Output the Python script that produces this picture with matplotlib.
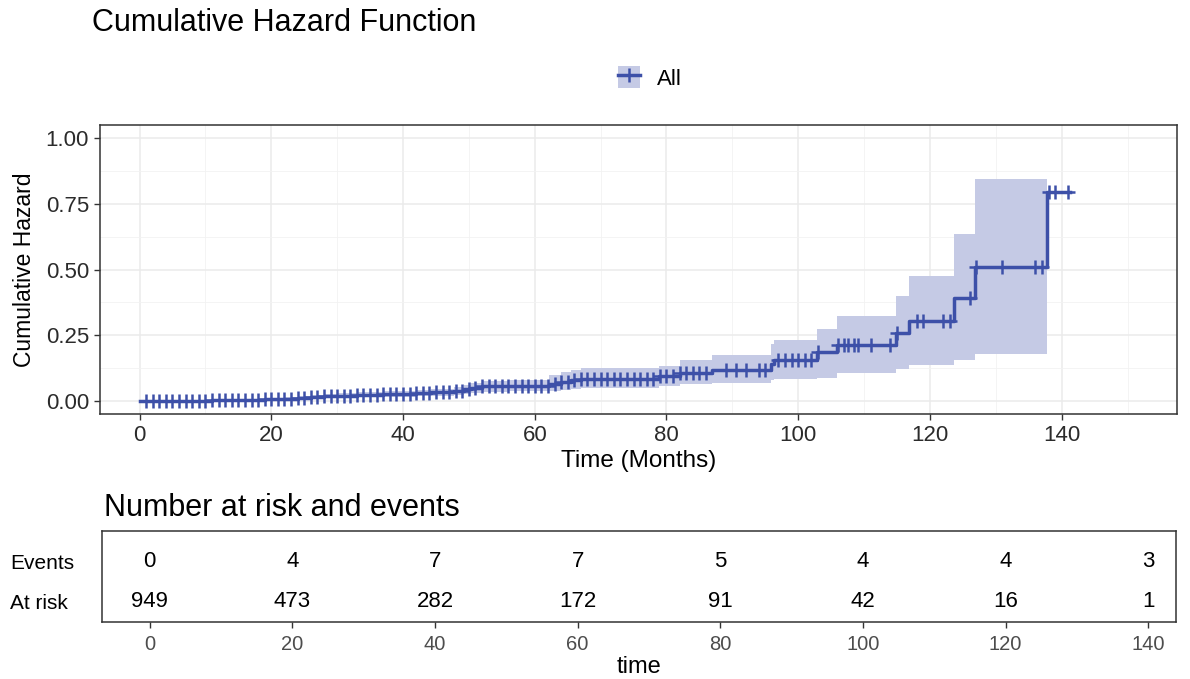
import matplotlib
matplotlib.use("Agg")
import matplotlib.pyplot as plt
import numpy as np
from matplotlib.patches import Patch
from matplotlib.lines import Line2D

plt.rcParams['font.family'] = ['Liberation Sans', 'DejaVu Sans']

# event times (months) and cumulative hazard after each event
event_t = [6, 11, 15, 19, 22, 24, 26, 28, 30, 33, 37, 42, 44.3, 47.8, 49.2, 50.3,
           52, 56, 62.2, 64, 65.5, 67, 78.9, 82, 86.9, 95.8, 96.3, 102.9, 105.9,
           114.8, 116.8, 123.7, 126.9, 137.7]
cumhaz = [0.0012, 0.0025, 0.0038, 0.0055, 0.008, 0.011, 0.014, 0.017, 0.020, 0.023,
          0.026, 0.029, 0.033, 0.038, 0.044, 0.050, 0.055, 0.058, 0.065, 0.071,
          0.078, 0.082, 0.093, 0.106, 0.119, 0.140, 0.155, 0.186, 0.212, 0.258,
          0.305, 0.393, 0.509, 0.795]
# confidence band, from t=0 up to the last event (band stops there)
ci_low = [0, 0, 0.0003, 0.001, 0.002, 0.003, 0.005, 0.007, 0.009, 0.011, 0.013,
          0.015, 0.017, 0.020, 0.023, 0.027, 0.031, 0.035, 0.037, 0.038, 0.042,
          0.047, 0.048, 0.055, 0.063, 0.067, 0.078, 0.082, 0.088, 0.106, 0.122,
          0.137, 0.156, 0.179]
ci_up = [0, 0.004, 0.006, 0.008, 0.010, 0.013, 0.017, 0.021, 0.025, 0.029, 0.033,
         0.037, 0.041, 0.046, 0.053, 0.061, 0.069, 0.075, 0.079, 0.100, 0.108,
         0.118, 0.125, 0.134, 0.154, 0.176, 0.215, 0.233, 0.274, 0.322, 0.398,
         0.474, 0.634, 0.843]
last_time = 141.3

censor_t = [1, 2, 3, 4, 5, 6, 7, 8, 9, 10, 11, 12, 13, 14, 15, 16, 17, 18, 19, 20,
            21, 22, 23, 24, 25, 26, 27, 28, 29, 30, 31, 32, 33, 34, 35, 36, 37, 38,
            39, 40, 41, 42, 43, 44, 45, 46, 47, 48, 49, 50, 51, 52, 53, 54, 55, 56,
            57, 58, 59, 60, 61, 62, 63, 64, 65, 66, 67, 68, 69, 70, 71, 72, 73, 74,
            75, 76, 77, 78, 79, 80, 81, 82, 83, 84, 85, 86, 89, 90.5, 92, 94, 95,
            97, 98, 99, 100, 101, 102, 103, 106, 107, 107.6, 108.4, 109, 111, 114,
            115, 118, 119, 122, 123, 126, 127, 131, 136, 137, 138, 139, 141]

# risk table
table_t = [0, 20, 40, 60, 80, 100, 120, 140]
n_events = [0, 4, 7, 7, 5, 4, 4, 3]
n_risk = [949, 473, 282, 172, 91, 42, 16, 1]

col = '#3D50A8'
band = '#C5CAE5'
W, H = 1190, 679

fig = plt.figure(figsize=(W / 100, H / 100), dpi=100)

# ---- cumulative hazard panel
ax = fig.add_axes([100 / W, 1 - 414 / H, (1177 - 100) / W, (414 - 125) / H])
step_x = [0] + event_t + [last_time]
step_y = [0] + cumhaz + [cumhaz[-1]]
band_x = [0] + event_t
band_lo = ci_low + [ci_low[-1]]
band_hi = ci_up + [ci_up[-1]]
ax.fill_between(band_x, band_lo, band_hi, step='post', color=band, lw=0, zorder=2)
ax.step(step_x, step_y, where='post', color=col, lw=2.5, zorder=3)
idx = np.searchsorted(step_x, censor_t, side='right') - 1
ax.plot(censor_t, np.array(step_y)[idx], ls='none', marker='+', ms=9.5,
        mew=1.8, color=col, zorder=4)

ax.set_xlim(-6, 157.5)
ax.set_ylim(-0.05, 1.05)
ax.set_xticks([0, 20, 40, 60, 80, 100, 120, 140])
ax.set_xticks(np.arange(10, 151, 20), minor=True)
ax.set_yticks([0, 0.25, 0.5, 0.75, 1.0])
ax.set_yticklabels(['0.00', '0.25', '0.50', '0.75', '1.00'])
ax.set_yticks([0.125, 0.375, 0.625, 0.875], minor=True)
ax.grid(which='major', color='#EBEBEB', lw=1.1, zorder=0)
ax.grid(which='minor', color='#F2F2F2', lw=0.6, zorder=0)
ax.set_axisbelow(True)
ax.tick_params(which='major', length=4, width=1, color='#333333',
               labelsize=16, labelcolor='#2B2B2B', pad=4)
ax.tick_params(which='minor', length=0)
for s in ax.spines.values():
    s.set_color('#333333')
    s.set_linewidth(1.1)
ax.set_xlabel('Time (Months)', fontsize=17.5, labelpad=3)
ax.set_ylabel('Cumulative Hazard', fontsize=16.5, labelpad=7)

fig.text(92 / W, 1 - 23 / H, 'Cumulative Hazard Function', fontsize=22,
         va='center', ha='left')

h_patch = Patch(facecolor=band, edgecolor='none')
h_line = Line2D([], [], color=col, lw=2.5, marker='+', ms=9.5, mew=1.8)
fig.legend([(h_patch, h_line)], ['All'], loc='center',
           bbox_to_anchor=(650 / W, 1 - 78 / H), frameon=False, fontsize=16,
           handlelength=1.0, handleheight=1.15, handletextpad=0.75)

# ---- risk table
tx = fig.add_axes([102 / W, 1 - 622 / H, (1176 - 102) / W, (622 - 531) / H])
tx.set_xlim(-6.7, 143.9)
tx.set_ylim(0.478, 2.75)
for t, e, r in zip(table_t, n_events, n_risk):
    tx.text(t, 2, str(e), ha='center', va='center', fontsize=16)
    tx.text(t, 1, str(r), ha='center', va='center', fontsize=16)
tx.set_xticks(table_t)
tx.set_yticks([2, 1])
tx.set_yticklabels(['Events', 'At risk'])
tx.tick_params(axis='y', length=0, labelsize=15)
tx.tick_params(axis='x', length=4, width=1, color='#333333', labelsize=14.5,
               labelcolor='#4D4D4D', pad=5)
for s in tx.spines.values():
    s.set_color('#333333')
    s.set_linewidth(1.1)
tx.set_xlabel('time', fontsize=17, labelpad=2)
fig.text(104 / W, 1 - 508 / H, 'Number at risk and events', fontsize=22,
         va='center', ha='left')

# row labels start at the left edge of the figure
for lab in tx.get_yticklabels():
    lab.set_horizontalalignment('left')
    lab.set_transform(matplotlib.transforms.blended_transform_factory(
        fig.transFigure, tx.transData))
    lab.set_x(10 / W)

fig.savefig('out.png', dpi=100)
